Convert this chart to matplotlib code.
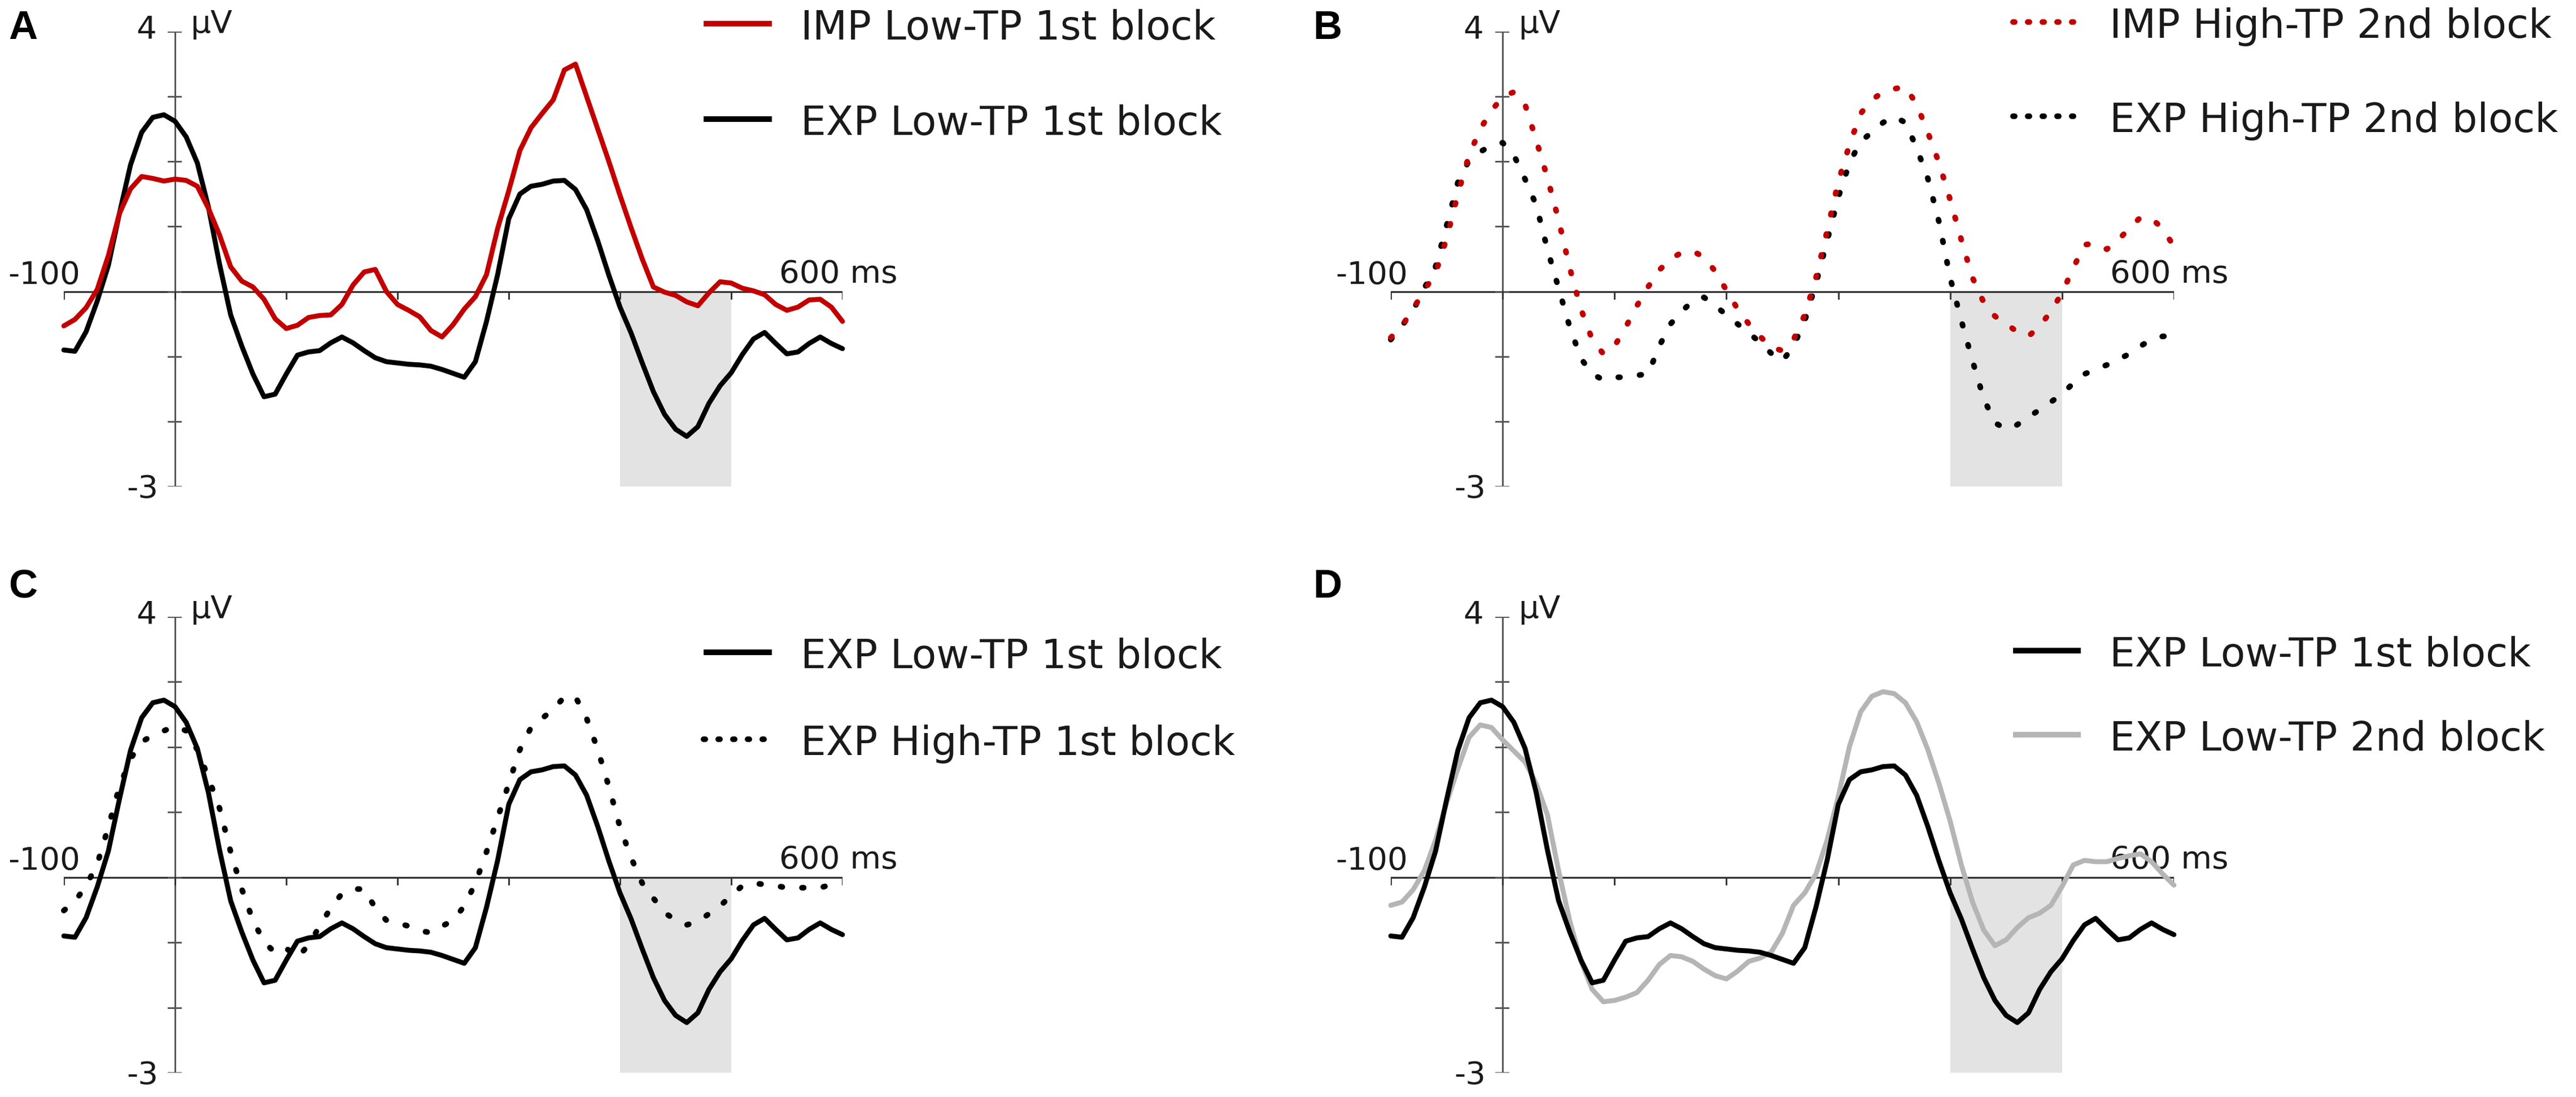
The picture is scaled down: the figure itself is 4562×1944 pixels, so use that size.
import matplotlib
matplotlib.use("Agg")
import matplotlib.pyplot as plt
from matplotlib.lines import Line2D
import numpy as np

# ERP waveforms, one value every 10 ms from -100 to 600 ms (in µV)
time_ms = np.arange(-100, 601, 10)

exp_low_1st = [-0.90, -0.92, -0.62, -0.15, 0.40, 1.20, 1.95, 2.45, 2.68, 2.72,
               2.62, 2.38, 1.98, 1.30, 0.42, -0.36, -0.84, -1.27, -1.62, -1.58,
               -1.27, -0.98, -0.93, -0.91, -0.79, -0.70, -0.79, -0.91, -1.02, -1.08,
               -1.10, -1.12, -1.13, -1.15, -1.20, -1.26, -1.32, -1.08, -0.46, 0.26,
               1.12, 1.50, 1.62, 1.65, 1.70, 1.71, 1.57, 1.26, 0.78, 0.25,
               -0.24, -0.64, -1.10, -1.54, -1.89, -2.12, -2.23, -2.08, -1.72, -1.45,
               -1.25, -0.97, -0.73, -0.63, -0.80, -0.96, -0.93, -0.80, -0.70, -0.80,
               -0.88]

imp_low_1st = [-0.53, -0.43, -0.25, 0.03, 0.55, 1.20, 1.58, 1.77, 1.74, 1.70,
               1.73, 1.71, 1.62, 1.28, 0.87, 0.38, 0.16, 0.07, -0.12, -0.42,
               -0.57, -0.52, -0.40, -0.37, -0.36, -0.20, 0.10, 0.30, 0.34, 0.00,
               -0.20, -0.29, -0.39, -0.60, -0.70, -0.51, -0.27, -0.08, 0.26, 0.97,
               1.55, 2.17, 2.52, 2.74, 2.95, 3.41, 3.50, 3.00, 2.50, 2.00,
               1.48, 0.98, 0.50, 0.07, -0.01, -0.06, -0.16, -0.22, -0.02, 0.15,
               0.13, 0.05, 0.01, -0.05, -0.20, -0.29, -0.24, -0.13, -0.12, -0.24,
               -0.46]

imp_high_2nd = [-0.71, -0.53, -0.27, 0.02, 0.28, 0.82, 1.50, 2.10, 2.50, 2.78,
                3.00, 3.07, 2.88, 2.33, 1.75, 1.10, 0.36, -0.27, -0.74, -0.96,
                -0.84, -0.55, -0.22, 0.07, 0.33, 0.50, 0.60, 0.62, 0.53, 0.31,
                0.02, -0.27, -0.50, -0.69, -0.86, -0.91, -0.74, -0.36, 0.21, 0.93,
                1.69, 2.26, 2.74, 2.95, 3.07, 3.12, 3.15, 2.88, 2.45, 1.98,
                1.41, 0.79, 0.21, -0.17, -0.38, -0.50, -0.62, -0.69, -0.53, -0.31,
                -0.02, 0.36, 0.72, 0.74, 0.65, 0.79, 0.97, 1.14, 1.12, 0.97,
                0.69]

exp_high_2nd = [-0.74, -0.53, -0.29, 0.05, 0.38, 1.02, 1.68, 2.02, 2.15, 2.25,
                2.29, 2.10, 1.73, 1.33, 0.65, 0.05, -0.55, -1.03, -1.27, -1.36,
                -1.32, -1.32, -1.29, -1.27, -0.84, -0.50, -0.31, -0.14, -0.09, -0.22,
                -0.36, -0.50, -0.64, -0.78, -0.95, -1.07, -0.84, -0.45, 0.12, 0.78,
                1.45, 1.98, 2.31, 2.45, 2.60, 2.69, 2.60, 2.21, 1.74, 1.07,
                0.21, -0.45, -1.07, -1.65, -2.02, -2.12, -2.05, -1.93, -1.82, -1.70,
                -1.58, -1.41, -1.27, -1.20, -1.13, -1.05, -0.96, -0.84, -0.74, -0.69,
                -0.69]

exp_high_1st = [-0.51, -0.37, -0.13, 0.20, 0.77, 1.39, 1.82, 2.08, 2.18, 2.25,
                2.32, 2.25, 1.96, 1.53, 1.06, 0.39, -0.18, -0.66, -0.99, -1.16,
                -1.09, -1.23, -1.04, -0.75, -0.47, -0.25, -0.18, -0.18, -0.47, -0.66,
                -0.70, -0.75, -0.82, -0.85, -0.75, -0.66, -0.44, -0.09, 0.39, 0.91,
                1.44, 1.96, 2.30, 2.44, 2.58, 2.77, 2.77, 2.44, 1.96, 1.39,
                0.77, 0.30, -0.09, -0.32, -0.54, -0.66, -0.73, -0.68, -0.56, -0.44,
                -0.28, -0.13, -0.09, -0.11, -0.13, -0.16, -0.16, -0.16, -0.16, -0.11,
                -0.09]

exp_low_2nd = [-0.43, -0.38, -0.19, 0.10, 0.57, 1.15, 1.67, 2.15, 2.34, 2.30,
               2.11, 1.94, 1.77, 1.44, 0.96, 0.10, -0.67, -1.29, -1.72, -1.91,
               -1.89, -1.84, -1.77, -1.58, -1.34, -1.20, -1.22, -1.29, -1.41, -1.51,
               -1.56, -1.44, -1.29, -1.24, -1.15, -0.86, -0.43, -0.24, 0.05, 0.57,
               1.24, 2.01, 2.54, 2.78, 2.85, 2.82, 2.68, 2.39, 1.96, 1.44,
               0.86, 0.19, -0.38, -0.81, -1.05, -0.96, -0.77, -0.62, -0.55, -0.43,
               -0.14, 0.19, 0.26, 0.24, 0.24, 0.29, 0.33, 0.36, 0.24, 0.05,
               -0.12]

window_ms = [400, 500]

W, H = 4562, 1944
fig = plt.figure(figsize=(W / 300, H / 300), dpi=300)

RED = "#c20000"
GREY = "#b5b5b5"
TXT = "#1a1a1a"
LW = 2.1
DOT = (0, (0.3, 3.5))
DOT_LEG = (0, (0.3, 2.3))


def fx(x):
    return x / W


def fy(y):
    return 1 - y / H


def draw_panel(x0, x1, ytop, ybot, curves, letter, letter_xy, leg_x, leg_rows):
    ax = fig.add_axes([fx(x0), fy(ybot), fx(x1 - x0), (ybot - ytop) / H])
    ax.set_xlim(-100, 600)
    ax.set_ylim(-3, 4)
    ax.axis("off")

    ax.fill_between(window_ms, -3, 0, color="#e3e3e3", lw=0, zorder=0)
    ax.plot([-100, 600], [0, 0], color="#333333", lw=0.8, zorder=1)
    ax.plot([0, 0], [-3, 4], color="#555555", lw=0.7, zorder=1)
    for v in range(-3, 5):
        ax.plot([-6, 5], [v, v], color="#555555", lw=0.7, zorder=1)
    for t in range(-100, 601, 100):
        ax.plot([t, t], [0, -0.11], color="#333333", lw=0.7, zorder=1)

    ax.text(-17, 3.9, "4", ha="right", va="baseline", fontsize=13.5, color=TXT)
    ax.text(14, 3.98, "µV", ha="left", va="baseline", fontsize=13.5, color=TXT)
    ax.text(-15, -3.04, "-3", ha="right", va="center", fontsize=13.5, color=TXT)
    ax.text(-85, 0.12, "-100", ha="right", va="baseline", fontsize=13.5, color=TXT)
    ax.text(543, 0.14, "600 ms", ha="left", va="baseline", fontsize=13.5, color=TXT)

    for values, color, ls, label in curves:
        if ls == "-":
            ax.plot(time_ms, values, color=color, ls="-", lw=LW, clip_on=False,
                    zorder=3, solid_capstyle="round", solid_joinstyle="round")
        else:
            ax.plot(time_ms, values, color=color, ls=ls, lw=LW + 0.3, clip_on=False,
                    zorder=3, dash_capstyle="round")

    fig.text(fx(letter_xy[0]), fy(letter_xy[1]), letter, ha="left", va="baseline",
             fontsize=17, fontweight="bold", family="Liberation Sans", color="black")

    for (label, color, ls), ly in zip(leg_rows[0], leg_rows[1]):
        if ls == "-":
            kw = dict(ls="-", solid_capstyle="butt")
        else:
            kw = dict(ls=DOT_LEG, dash_capstyle="round")
        fig.add_artist(Line2D([fx(leg_x[0]), fx(leg_x[1])], [fy(ly), fy(ly)],
                              transform=fig.transFigure, color=color, lw=2.4, **kw))
        fig.text(fx(leg_x[2]), fy(ly + 28), label, ha="left", va="baseline",
                 fontsize=17, color=TXT)


# A
draw_panel(113, 1492, 56, 862,
           [(exp_low_1st, "black", "-", "EXP Low-TP 1st block"),
            (imp_low_1st, RED, "-", "IMP Low-TP 1st block")],
           "A", (15, 69), (1246, 1367, 1418),
           ([("IMP Low-TP 1st block", RED, "-"),
             ("EXP Low-TP 1st block", "black", "-")], [42, 211]))

# B
draw_panel(2463, 3850, 56, 862,
           [(exp_high_2nd, "black", DOT, "EXP High-TP 2nd block"),
            (imp_high_2nd, RED, DOT, "IMP High-TP 2nd block")],
           "B", (2325, 69), (3565, 3682, 3736),
           ([("IMP High-TP 2nd block", RED, ":"),
             ("EXP High-TP 2nd block", "black", ":")], [39, 206]))

# C
draw_panel(113, 1492, 1093, 1901,
           [(exp_high_1st, "black", DOT, "EXP High-TP 1st block"),
            (exp_low_1st, "black", "-", "EXP Low-TP 1st block")],
           "C", (15, 1059), (1246, 1367, 1418),
           ([("EXP Low-TP 1st block", "black", "-"),
             ("EXP High-TP 1st block", "black", ":")], [1156, 1310]))

# D
draw_panel(2463, 3850, 1093, 1901,
           [(exp_low_2nd, GREY, "-", "EXP Low-TP 2nd block"),
            (exp_low_1st, "black", "-", "EXP Low-TP 1st block")],
           "D", (2325, 1059), (3565, 3685, 3736),
           ([("EXP Low-TP 1st block", "black", "-"),
             ("EXP Low-TP 2nd block", GREY, "-")], [1153, 1302]))

fig.savefig("out.png", dpi=300, facecolor="white")
